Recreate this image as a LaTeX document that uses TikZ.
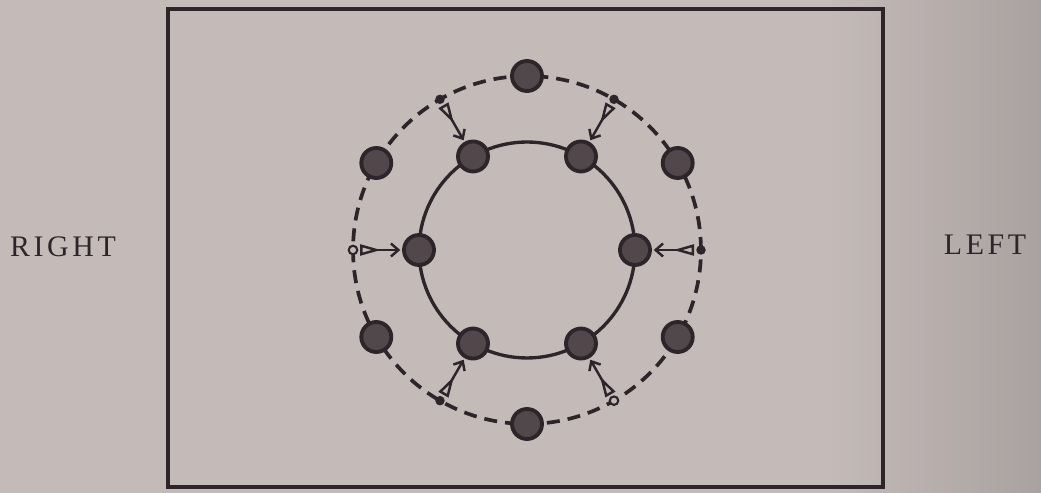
\documentclass[tikz,border=0pt]{standalone}
\usepackage{fontspec}
\usepackage{tikz}
\usetikzlibrary{arrows.meta}
\newfontfamily\cotefont[LetterSpace=12]{Liberation Serif}
\definecolor{papier}{RGB}{196,187,185}
\definecolor{papierSombre}{RGB}{170,162,160}
\definecolor{encre}{RGB}{45,37,41}
\definecolor{grisBoule}{RGB}{82,72,75}

\begin{document}
\begin{tikzpicture}[x=0.02cm,y=0.02cm,
  boule/.style={circle,minimum size=0.6cm,inner sep=0pt,draw=encre,line width=2.2pt,
                fill=grisBoule},
  petitPoint/.style={circle,minimum size=0.19cm,inner sep=0pt,fill=encre},
  pointVide/.style={circle,minimum size=0.17cm,inner sep=0pt,draw=encre,line width=1.2pt,
                fill=papier},
  tir/.style={encre,line width=1.4pt,shorten <=1pt,shorten >=1pt,
              {Triangle[open,reversed,length=0.42cm,width=0.22cm]}-{Straight Barb[length=0.15cm,width=0.26cm]}},
  cote/.style={font=\cotefont\fontsize{17}{20}\selectfont,text=encre}]

  % Fond
  \fill[papier] (-527,-243) rectangle (514,250);
  \shade[left color=papier,right color=papierSombre] (300,-243) rectangle (514,250);
  \useasboundingbox (-527,-243) rectangle (514,250);

  % Cadre
  \draw[encre,line width=2.8pt] (-359,241) rectangle (356,-237);

  % Cercles
  \draw[encre,line width=2.1pt,dash pattern=on 0.26cm off 0.16cm] (0,0) circle[radius=3.48cm];
  \draw[encre,line width=1.9pt] (0,0) circle[radius=2.16cm];

  % Boules
  \foreach \a in {30,90,...,330} \node[boule] (ext\a) at (\a:174) {};
  \foreach \a in {0,60,...,300} \node[boule] (int\a) at (\a:108) {};

  % Points de depart
  \foreach \a in {0,60,120,240} \node[petitPoint] (dep\a) at (\a:174) {};
  \foreach \a in {180,300} \node[pointVide] (dep\a) at (\a:174) {};

  % Fleches
  \foreach \a in {0,60,...,300} \draw[tir] (dep\a) -- (int\a);

  \node[cote] (droite) at (-464,3) {RIGHT};
  \node[cote] (gauche) at (458,5) {LEFT};
\end{tikzpicture}
\end{document}
